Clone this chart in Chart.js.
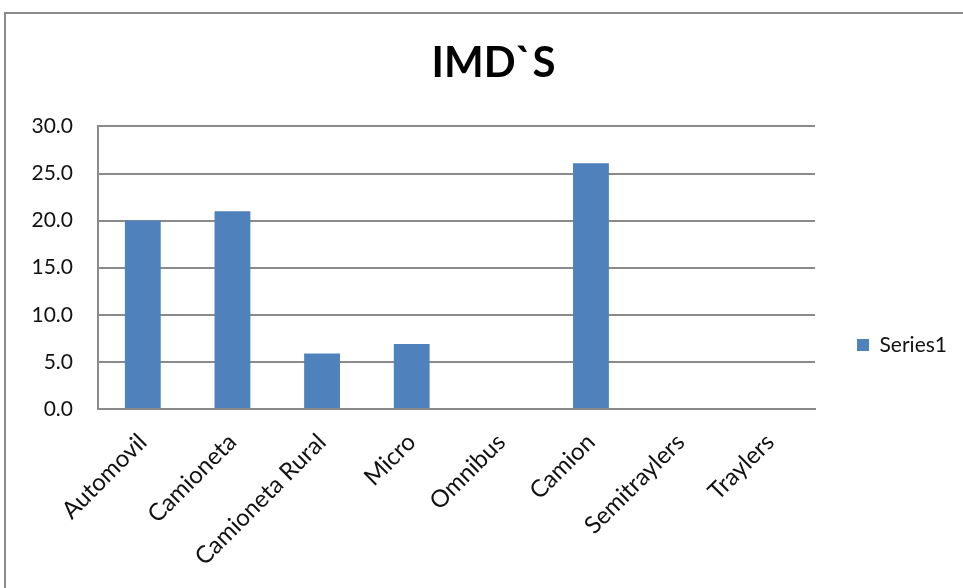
<!DOCTYPE html>
<html>
<head>
<meta charset="utf-8">
<script src="https://cdn.jsdelivr.net/npm/chart.js@4.4.1/dist/chart.umd.min.js"></script>
<style>
  html, body { margin: 0; padding: 0; background: #fff; overflow: hidden; }
  #wrap { position: relative; width: 963px; height: 588px; }
  #frame { position: absolute; left: 4px; top: 12px; right: -10px; bottom: -10px; border: 2px solid #8a8a8a; }
  #chart { position: absolute; left: 0; top: 0; }
</style>
</head>
<body>
<div id="wrap">
  <div id="frame"></div>
  <canvas id="chart" width="963" height="588"></canvas>
</div>
<script>
// IMD`S by vehicle type
const categories = ["Automovil", "Camioneta", "Camioneta Rural", "Micro", "Omnibus", "Camion", "Semitraylers", "Traylers"];
const series1 = [20.0, 21.0, 5.9, 6.9, 0, 26.1, 0, 0];
const yTicks = { min: 0, max: 30, step: 5 };

const FONT = "Lato, 'Open Sans', sans-serif";
const GRID = "#8a8a8a";

const ctx = document.getElementById("chart").getContext("2d");
const chart = new Chart(ctx, {
  type: "bar",
  data: {
    labels: categories,
    datasets: [
      { label: "Series1", data: series1, backgroundColor: "#4f81bd", barPercentage: 0.4, categoryPercentage: 1.0 }
    ]
  },
  options: {
    responsive: false,
    animation: false,
    layout: { padding: { left: 30, right: 6, top: 38, bottom: 0 } },
    plugins: {
      title: {
        display: true,
        text: "IMD`S",
        color: "#000",
        font: { family: FONT, size: 42, weight: "bold" },
        padding: { top: 0, bottom: 38 }
      },
      legend: {
        position: "right",
        // empty title only pushes the single entry down a bit
        title: { display: true, text: " ", font: { size: 10 }, padding: { top: 26, bottom: 26 } },
        labels: {
          boxWidth: 12, boxHeight: 12, padding: 42,
          color: "#111",
          font: { family: FONT, size: 21 }
        }
      },
      tooltip: { enabled: false }
    },
    scales: {
      x: {
        grid: { display: false, drawTicks: false },
        border: { color: GRID, width: 2 },
        ticks: {
          color: "#111", font: { family: FONT, size: 24 },
          minRotation: 45, maxRotation: 45, padding: 19
        },
        afterFit: (s) => { s.height = 179; }
      },
      y: {
        min: yTicks.min, max: yTicks.max,
        grid: { color: GRID, lineWidth: 2, drawTicks: false },
        border: { color: GRID, width: 2 },
        ticks: {
          stepSize: yTicks.step, padding: 25,
          color: "#111", font: { family: FONT, size: 21 },
          callback: (v) => v.toFixed(1)
        },
        afterFit: (s) => { s.width = 68; }
      }
    }
  }
});
</script>
</body>
</html>
